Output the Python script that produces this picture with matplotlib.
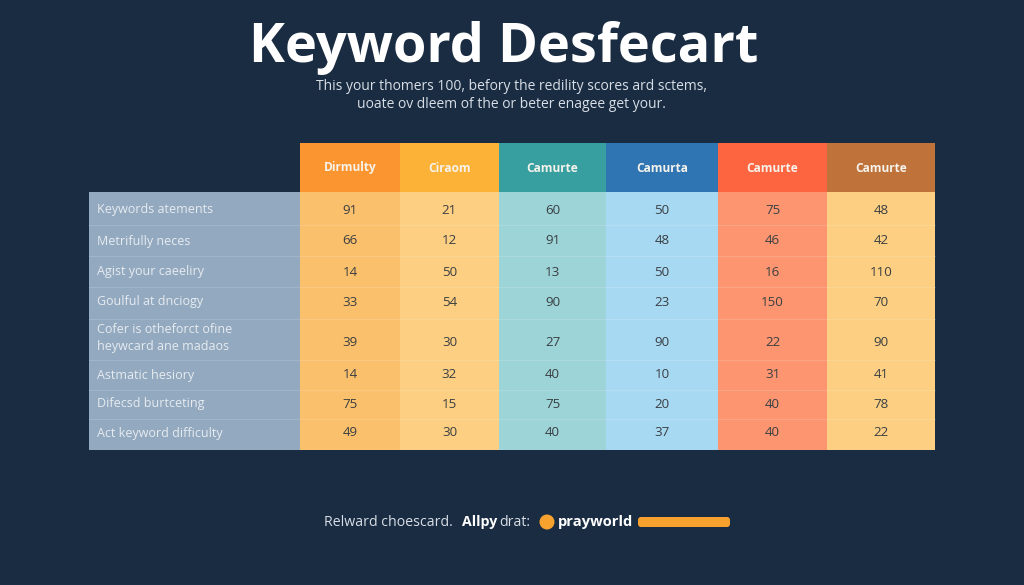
import matplotlib
matplotlib.use('Agg')
import matplotlib.pyplot as plt
from matplotlib.patches import Rectangle, Circle, FancyBboxPatch

title = 'Keyword Desfecart'
subtitle = ['This your thomers 100, befory the redility scores ard sctems,',
            'uoate ov dleem of the or beter enagee get your.']
columns = ['Dirmulty', 'Ciraom', 'Camurte', 'Camurta', 'Camurte', 'Camurte']
row_labels = ['Keywords atements', 'Metrifully neces', 'Agist your caeeliry',
              'Goulful at dnciogy', 'Cofer is otheforct ofine\nheywcard ane madaos',
              'Astmatic hesiory', 'Difecsd burtceting', 'Act keyword difficulty']
values = [['91', '21', '60', '50', '75', '48'],
          ['66', '12', '91', '48', '46', '42'],
          ['14', '50', '13', '50', '16', '110'],
          ['33', '54', '90', '23', '150', '70'],
          ['39', '30', '27', '90', '22', '90'],
          ['14', '32', '40', '10', '31', '41'],
          ['75', '15', '75', '20', '40', '78'],
          ['49', '30', '40', '37', '40', '22']]

# table layout, in pixels of the 1024x585 picture
col_edges = [300, 400, 499, 606, 718, 827, 935]
row_edges = [192, 225, 256, 287, 319, 360, 390, 419, 450]
# text in the rows is not quite centred in the reference
label_y = [210, 241, 272, 302, 338, 375, 404, 433]
value_y = [210, 241, 272, 302, 342, 375, 404, 433]
header_top = 143
label_left = 89

bg = '#1a2c42'
head_colors = ['#fb9530', '#fbb237', '#379f9f', '#2f75b3', '#fd6540', '#bf733a']
cell_colors = ['#fbc06c', '#fdcf82', '#9dd4d8', '#a8d9f3', '#fc9570', '#fccf82']
label_bg = '#93a9bf'
font = 'Open Sans'

fig = plt.figure(figsize=(10.24, 5.85), dpi=100, facecolor=bg)
ax = fig.add_axes([0, 0, 1, 1])
ax.set_xlim(0, 1024)
ax.set_ylim(585, 0)
ax.axis('off')

ax.text(504, 62, title, color='white', fontsize=39, fontweight='bold',
        family=font, ha='center', va='baseline')
ax.text(511, 86, subtitle[0], color='#d8dee6', fontsize=10, family=font, ha='center', va='center')
ax.text(511, 105, subtitle[1], color='#d8dee6', fontsize=10, family=font, ha='center', va='center')

# label column
ax.add_patch(Rectangle((label_left, row_edges[0]), col_edges[0] - label_left,
                       row_edges[-1] - row_edges[0], fc=label_bg, ec='none'))

for j, name in enumerate(columns):
    x0, x1 = col_edges[j], col_edges[j + 1]
    ax.add_patch(Rectangle((x0, header_top), x1 - x0, row_edges[0] - header_top,
                           fc=head_colors[j], ec='none'))
    ax.add_patch(Rectangle((x0, row_edges[0]), x1 - x0, row_edges[-1] - row_edges[0],
                           fc=cell_colors[j], ec='none'))
    ax.text((x0 + x1) / 2, (header_top + row_edges[0]) / 2 + 0.5, name, color='#f6f3ec',
            fontsize=8.6, fontweight='bold', family=font, ha='center', va='center')

for i, label in enumerate(row_labels):
    ax.text(97, label_y[i], label, color='#e6ebf0', fontsize=9, family=font, ha='left',
            va='center', linespacing=1.45)
    for j, v in enumerate(values[i]):
        ax.text((col_edges[j] + col_edges[j + 1]) / 2, value_y[i], v, color='#3a3f42',
                fontsize=9.6, family=font, ha='center', va='center')

# faint row lines
for y in row_edges[1:-1]:
    ax.plot([label_left, col_edges[-1]], [y, y], color='white', alpha=0.14, lw=0.8)

# footer
ax.text(324, 522, 'Relward choescard.', color='#d8dee6', fontsize=10.2, family=font, ha='left', va='center')
ax.text(462, 522, 'Allpy', color='white', fontsize=10.2, fontweight='bold', family=font, ha='left', va='center')
ax.text(499, 522, 'drat:', color='#d8dee6', fontsize=10.2, family=font, ha='left', va='center')
ax.add_patch(Circle((547, 522), 7.5, fc='#f7a22e', ec='none'))
ax.text(558, 522, 'prayworld', color='white', fontsize=10.6, fontweight='bold', family=font, ha='left', va='center')
ax.add_patch(FancyBboxPatch((638, 517), 92, 10, boxstyle='round,pad=0,rounding_size=3',
                            fc='#f7a22e', ec='none'))

fig.savefig('out.png', dpi=100, facecolor=bg)
